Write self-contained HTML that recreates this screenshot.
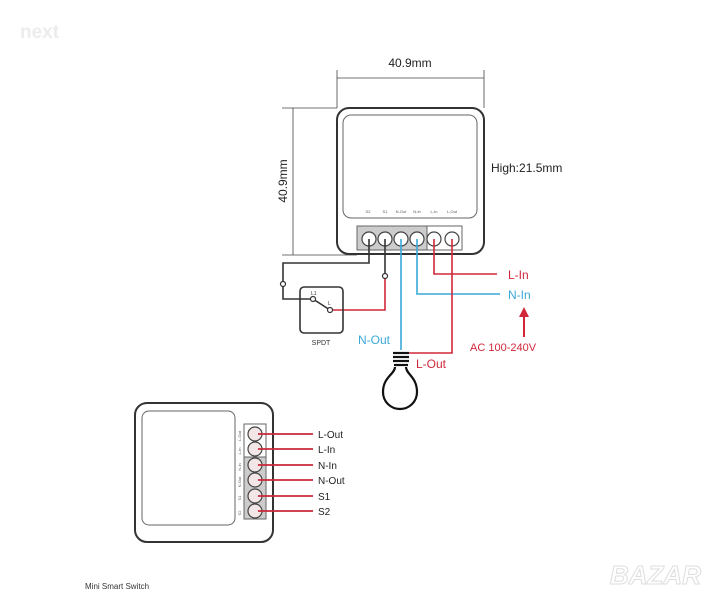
<!DOCTYPE html>
<html><head><meta charset="utf-8"><style>
html,body{margin:0;padding:0;background:#fff;width:722px;height:600px;overflow:hidden}
text{font-family:"Liberation Sans",sans-serif}
</style></head><body>
<svg width="722" height="600" viewBox="0 0 722 600" xmlns="http://www.w3.org/2000/svg">
<text x="20" y="38" font-size="19" font-weight="bold" fill="#ececec">next</text>
<text x="610" y="584" font-size="26" font-weight="bold" fill="#fff" stroke="#ddd" stroke-width="1" font-style="italic">BAZAR</text>

<!-- dimensions -->
<g stroke="#444" stroke-width="0.8" fill="none">
<line x1="337" y1="70" x2="337" y2="108"/><line x1="484" y1="70" x2="484" y2="108"/>
<line x1="337" y1="78" x2="484" y2="78"/>
<line x1="282" y1="108" x2="337" y2="108"/><line x1="282" y1="255" x2="357" y2="255"/>
<line x1="293" y1="108" x2="293" y2="255"/>
</g>
<text x="410" y="67" font-size="12" text-anchor="middle" fill="#222">40.9mm</text>
<text transform="translate(287,181) rotate(-90)" font-size="12" text-anchor="middle" fill="#222">40.9mm</text>
<text x="491" y="172" font-size="12" fill="#222">High:21.5mm</text>

<!-- top device -->
<rect x="337" y="108" width="147" height="146" rx="12" fill="#fff" stroke="#333" stroke-width="2"/>
<rect x="343" y="115" width="134" height="103" rx="8" fill="#fff" stroke="#666" stroke-width="1"/>
<g font-size="4" fill="#555" text-anchor="middle">
<text x="368" y="213">S2</text><text x="385" y="213">S1</text><text x="401" y="213">N-Out</text><text x="417" y="213">N-In</text><text x="434" y="213">L-In</text><text x="452" y="213">L-Out</text>
</g>
<rect x="357" y="226" width="70" height="24" fill="#ccc" stroke="#666" stroke-width="1"/>
<rect x="427" y="226" width="35" height="24" fill="#fff" stroke="#666" stroke-width="1"/>
<g fill="#fff" stroke="#444" stroke-width="1.2">
<circle cx="369" cy="239" r="7"/><circle cx="385" cy="239" r="7"/><circle cx="401" cy="239" r="7"/><circle cx="417" cy="239" r="7"/><circle cx="434" cy="239" r="7"/><circle cx="452" cy="239" r="7"/>
</g>

<!-- wires -->
<g fill="none" stroke-width="1.6">
<polyline points="369,239 369,263 283,263 283,299 313,299" stroke="#333"/>
<polyline points="385,239 385,276" stroke="#333"/>
<polyline points="385,276 385,310 330,310" stroke="#d0283a"/>
<line x1="313" y1="299" x2="330" y2="310" stroke="#333"/>
<polyline points="401,239 401,350" stroke="#3aa9d8"/>
<polyline points="417,239 417,294 500,294" stroke="#3aa9d8"/>
<polyline points="434,239 434,274 497,274" stroke="#d0283a"/>
<polyline points="452,239 452,353 405,353" stroke="#d0283a"/>
</g>
<g fill="#fff" stroke="#333" stroke-width="1.2">
<circle cx="283" cy="284" r="2.5"/><circle cx="385" cy="276" r="2.5"/><circle cx="313" cy="299" r="2.5"/><circle cx="330" cy="310" r="2.5"/>
</g>
<rect x="300" y="287" width="43" height="46" rx="4" fill="none" stroke="#333" stroke-width="1.6"/>
<text x="311" y="295" font-size="5" fill="#333">L1</text><text x="328" y="305" font-size="5" fill="#333">L</text>
<text x="321" y="345" font-size="7" text-anchor="middle" fill="#333">SPDT</text>

<text x="508" y="279" font-size="12" fill="#d0283a">L-In</text>
<text x="508" y="299" font-size="12" fill="#3aa9d8">N-In</text>
<line x1="524" y1="337" x2="524" y2="315" stroke="#d0283a" stroke-width="2"/>
<polygon points="524,307 519,317 529,317" fill="#d0283a"/>
<text x="470" y="351" font-size="11" fill="#d0283a">AC 100-240V</text>
<text x="358" y="344" font-size="12" fill="#3aa9d8">N-Out</text>
<text x="416" y="368" font-size="12" fill="#d0283a">L-Out</text>

<!-- bulb -->
<g stroke="#111" stroke-width="2.2" fill="none">
<line x1="393" y1="353" x2="409" y2="353"/><line x1="393" y1="357" x2="409" y2="357"/><line x1="393" y1="361" x2="409" y2="361"/><line x1="394" y1="365" x2="408" y2="365"/>
<path d="M395,367 C395,374 383,377 383,392 C383,402 391,409 400,409 C409,409 417,402 417,392 C417,377 406,374 406,367"/>
</g>

<!-- bottom device -->
<rect x="135" y="403" width="138" height="139" rx="12" fill="#fff" stroke="#333" stroke-width="2"/>
<rect x="142" y="411" width="93" height="114" rx="7" fill="#fff" stroke="#666" stroke-width="1"/>
<g font-size="4" fill="#555">
<text transform="translate(241,436) rotate(-90)" text-anchor="middle">L-Out</text>
<text transform="translate(241,451) rotate(-90)" text-anchor="middle">L-In</text>
<text transform="translate(241,467) rotate(-90)" text-anchor="middle">N-In</text>
<text transform="translate(241,482) rotate(-90)" text-anchor="middle">N-Out</text>
<text transform="translate(241,498) rotate(-90)" text-anchor="middle">S1</text>
<text transform="translate(241,513) rotate(-90)" text-anchor="middle">S2</text>
</g>
<rect x="244" y="424" width="22" height="33" fill="#fff" stroke="#666" stroke-width="1"/>
<rect x="244" y="457" width="22" height="62" fill="#ccc" stroke="#666" stroke-width="1"/>
<g fill="#f3e6e6" stroke="#444" stroke-width="1.2">
<circle cx="255" cy="434" r="7"/><circle cx="255" cy="449" r="7"/><circle cx="255" cy="465" r="7"/><circle cx="255" cy="480" r="7"/><circle cx="255" cy="496" r="7"/><circle cx="255" cy="511" r="7"/>
</g>
<g stroke="#c8283a" stroke-width="1.8">
<line x1="258" y1="434" x2="313" y2="434"/><line x1="258" y1="449" x2="313" y2="449"/><line x1="258" y1="465" x2="313" y2="465"/><line x1="258" y1="480" x2="313" y2="480"/><line x1="258" y1="496" x2="313" y2="496"/><line x1="258" y1="511" x2="313" y2="511"/>
</g>
<g font-size="10" fill="#222">
<text x="318" y="438">L-Out</text><text x="318" y="453">L-In</text><text x="318" y="469">N-In</text><text x="318" y="484">N-Out</text><text x="318" y="500">S1</text><text x="318" y="515">S2</text>
</g>
<text x="85" y="589" font-size="8" fill="#333">Mini Smart Switch</text>
</svg>
</body></html>
